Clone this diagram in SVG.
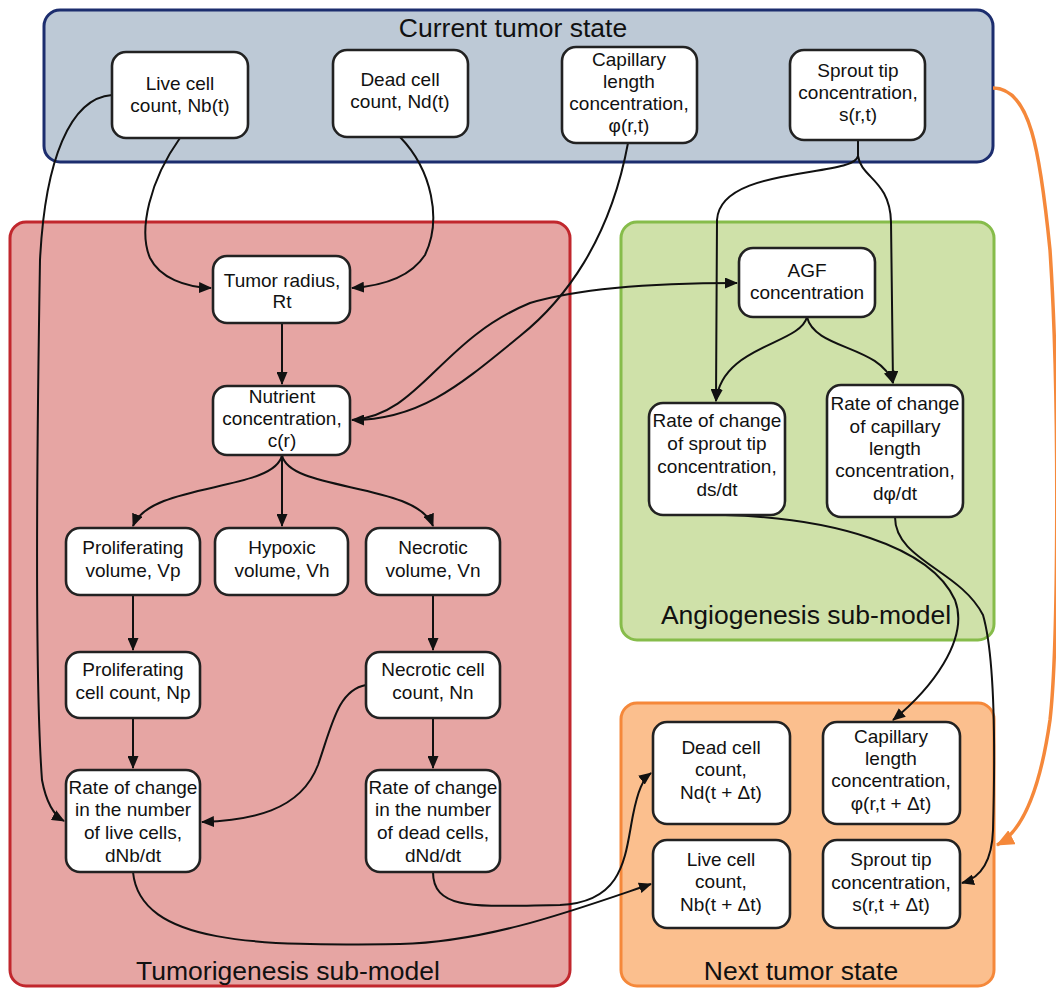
<svg xmlns="http://www.w3.org/2000/svg" width="1056" height="988" viewBox="0 0 1056 988">
<defs>
<marker id="ah" viewBox="0 0 13 11" refX="12" refY="5.5" markerWidth="13" markerHeight="11" markerUnits="userSpaceOnUse" orient="auto"><path d="M0,0 L13,5.5 L0,11 Z" fill="#111"/></marker>
<marker id="aho" viewBox="0 0 16 14" refX="15" refY="7" markerWidth="18" markerHeight="16" markerUnits="userSpaceOnUse" orient="auto"><path d="M0,0 L16,7 L0,14 Z" fill="#f5883a"/></marker>
</defs>
<style>
.grp{stroke-width:3}
.node rect{fill:#fff;stroke:#222;stroke-width:2.6}
.node text{font-family:"Liberation Sans",Arial,sans-serif;font-size:19px;fill:#111;text-anchor:middle}
.title{font-family:"Liberation Sans",Arial,sans-serif;font-size:26.5px;fill:#111;text-anchor:middle}
.c{fill:none;stroke:#111;stroke-width:2}
</style>
<rect width="1056" height="988" fill="#fff"/>
<g id="groups">
<rect class="grp" x="44" y="10" width="949" height="152" rx="16" fill="#bdc9d6" stroke="#1c2d6e"/>
<rect class="grp" x="10" y="222" width="560" height="764" rx="16" fill="#e6a5a3" stroke="#c1272d"/>
<rect class="grp" x="621" y="222" width="373" height="418" rx="16" fill="#cfe1a9" stroke="#86bc4a"/>
<rect class="grp" x="621" y="703" width="373" height="283" rx="16" fill="#fbbf8e" stroke="#f5883a"/>
<text class="title" x="513" y="37">Current tumor state</text>
<text class="title" x="288" y="980">Tumorigenesis sub-model</text>
<text class="title" x="806" y="624">Angiogenesis sub-model</text>
<text class="title" x="801" y="980">Next tumor state</text>
</g>
<g id="connectors">
<path class="c" d="M112,95 C70,98 45,160 40,260 C36,500 36,700 42,780 Q48,812 64,821" marker-end="url(#ah)"/>
<path class="c" d="M180,138 C150,180 138,230 150,258 C160,278 185,287 211,288" marker-end="url(#ah)"/>
<path class="c" d="M400,137 C432,170 442,220 425,255 C410,278 380,286 352,288" marker-end="url(#ah)"/>
<path class="c" d="M628,143 C610,240 565,300 520,336 C460,385 420,420 352,420" marker-end="url(#ah)"/>
<path class="c" d="M352,420 C420,415 440,340 530,303 C580,288 650,283 737,283" marker-end="url(#ah)"/>
<path class="c" d="M282,323 L282,384" marker-end="url(#ah)"/>
<path class="c" d="M858,140 L858,156 C855,178 720,165 717,220 L716,401" marker-end="url(#ah)"/>
<path class="c" d="M858,140 L858,156 C861,178 890,180 891,222 L893,383" marker-end="url(#ah)"/>
<path class="c" d="M807,317 C800,345 722,345 716,401" marker-end="url(#ah)"/>
<path class="c" d="M807,317 C815,350 880,345 893,383" marker-end="url(#ah)"/>
<path class="c" d="M282,455 C275,492 150,482 133,526" marker-end="url(#ah)"/>
<path class="c" d="M282,455 L282,526" marker-end="url(#ah)"/>
<path class="c" d="M282,455 C289,492 416,482 433,526" marker-end="url(#ah)"/>
<path class="c" d="M133,595 L133,650" marker-end="url(#ah)"/>
<path class="c" d="M133,718 L133,768" marker-end="url(#ah)"/>
<path class="c" d="M433,595 L433,650" marker-end="url(#ah)"/>
<path class="c" d="M433,718 L433,768" marker-end="url(#ah)"/>
<path class="c" d="M366,685 C338,690 332,725 318,765 C300,812 250,820 202,822" marker-end="url(#ah)"/>
<path class="c" d="M133,872 C140,945 260,946 400,944 C490,942 580,908 651,884" marker-end="url(#ah)"/>
<path class="c" d="M433,872 C433,912 480,906 560,905 C625,902 625,855 633,815 C638,790 643,779 651,773" marker-end="url(#ah)"/>
<path class="c" d="M725,515 C830,518 930,545 955,600 C970,640 930,690 893,720" marker-end="url(#ah)"/>
<path class="c" d="M895,517 C895,560 960,570 983,615 C996,660 995,760 993,830 C992,862 980,878 962,883" marker-end="url(#ah)"/>
<path d="M993,88 C1030,88 1040,150 1050,250 C1060,400 1058,650 1050,720 C1040,790 1022,832 997,845" fill="none" stroke="#f5883a" stroke-width="3.5" marker-end="url(#aho)"/>
</g>
<g id="n-live" class="node"><rect x="112" y="52" width="136" height="86" rx="14"/><text x="180" y="90">Live cell</text><text x="180" y="112">count, Nb(t)</text></g>
<g id="n-dead" class="node"><rect x="333" y="50" width="135" height="87" rx="14"/><text x="400" y="86">Dead cell</text><text x="400" y="108">count, Nd(t)</text></g>
<g id="n-cap" class="node"><rect x="562" y="47" width="135" height="96" rx="14"/><text x="629" y="66">Capillary</text><text x="629" y="88">length</text><text x="629" y="110">concentration,</text><text x="629" y="132">φ(r,t)</text></g>
<g id="n-sprout" class="node"><rect x="790" y="50" width="135" height="90" rx="14"/><text x="858" y="77">Sprout tip</text><text x="858" y="99">concentration,</text><text x="858" y="121">s(r,t)</text></g>
<g id="n-radius" class="node"><rect x="213" y="256" width="137" height="67" rx="14"/><text x="282" y="287">Tumor radius,</text><text x="282" y="308">Rt</text></g>
<g id="n-nutrient" class="node"><rect x="213" y="386" width="137" height="69" rx="14"/><text x="282" y="403">Nutrient</text><text x="282" y="425">concentration,</text><text x="282" y="447">c(r)</text></g>
<g id="n-vp" class="node"><rect x="66" y="528" width="134" height="67" rx="14"/><text x="133" y="554">Proliferating</text><text x="133" y="577">volume, Vp</text></g>
<g id="n-vh" class="node"><rect x="215" y="528" width="133" height="67" rx="14"/><text x="282" y="554">Hypoxic</text><text x="282" y="577">volume, Vh</text></g>
<g id="n-vn" class="node"><rect x="366" y="528" width="134" height="67" rx="14"/><text x="433" y="554">Necrotic</text><text x="433" y="577">volume, Vn</text></g>
<g id="n-np" class="node"><rect x="66" y="652" width="134" height="66" rx="14"/><text x="133" y="676">Proliferating</text><text x="133" y="699">cell count, Np</text></g>
<g id="n-nn" class="node"><rect x="366" y="652" width="134" height="66" rx="14"/><text x="433" y="676">Necrotic cell</text><text x="433" y="699">count, Nn</text></g>
<g id="n-dnb" class="node"><rect x="66" y="770" width="134" height="102" rx="14"/><text x="133" y="794">Rate of change</text><text x="133" y="816">in the number</text><text x="133" y="839">of live cells,</text><text x="133" y="862">dNb/dt</text></g>
<g id="n-dnd" class="node"><rect x="366" y="770" width="134" height="102" rx="14"/><text x="433" y="794">Rate of change</text><text x="433" y="816">in the number</text><text x="433" y="839">of dead cells,</text><text x="433" y="862">dNd/dt</text></g>
<g id="n-agf" class="node"><rect x="739" y="248" width="136" height="69" rx="14"/><text x="807" y="277">AGF</text><text x="807" y="299">concentration</text></g>
<g id="n-dsdt" class="node"><rect x="649" y="403" width="136" height="112" rx="14"/><text x="717" y="427">Rate of change</text><text x="717" y="450">of sprout tip</text><text x="717" y="473">concentration,</text><text x="717" y="496">ds/dt</text></g>
<g id="n-dphidt" class="node"><rect x="827" y="385" width="136" height="132" rx="14"/><text x="895" y="410">Rate of change</text><text x="895" y="433">of capillary</text><text x="895" y="455">length</text><text x="895" y="477">concentration,</text><text x="895" y="500">dφ/dt</text></g>
<g id="n-dead-next" class="node"><rect x="653" y="722" width="137" height="102" rx="14"/><text x="721" y="754">Dead cell</text><text x="721" y="776">count,</text><text x="721" y="799">Nd(t + Δt)</text></g>
<g id="n-cap-next" class="node"><rect x="823" y="722" width="137" height="102" rx="14"/><text x="891" y="743">Capillary</text><text x="891" y="765">length</text><text x="891" y="787">concentration,</text><text x="891" y="810">φ(r,t + Δt)</text></g>
<g id="n-live-next" class="node"><rect x="653" y="840" width="137" height="88" rx="14"/><text x="721" y="866">Live cell</text><text x="721" y="888">count,</text><text x="721" y="911">Nb(t + Δt)</text></g>
<g id="n-sprout-next" class="node"><rect x="823" y="840" width="137" height="88" rx="14"/><text x="891" y="866">Sprout tip</text><text x="891" y="889">concentration,</text><text x="891" y="911">s(r,t + Δt)</text></g>
</svg>
